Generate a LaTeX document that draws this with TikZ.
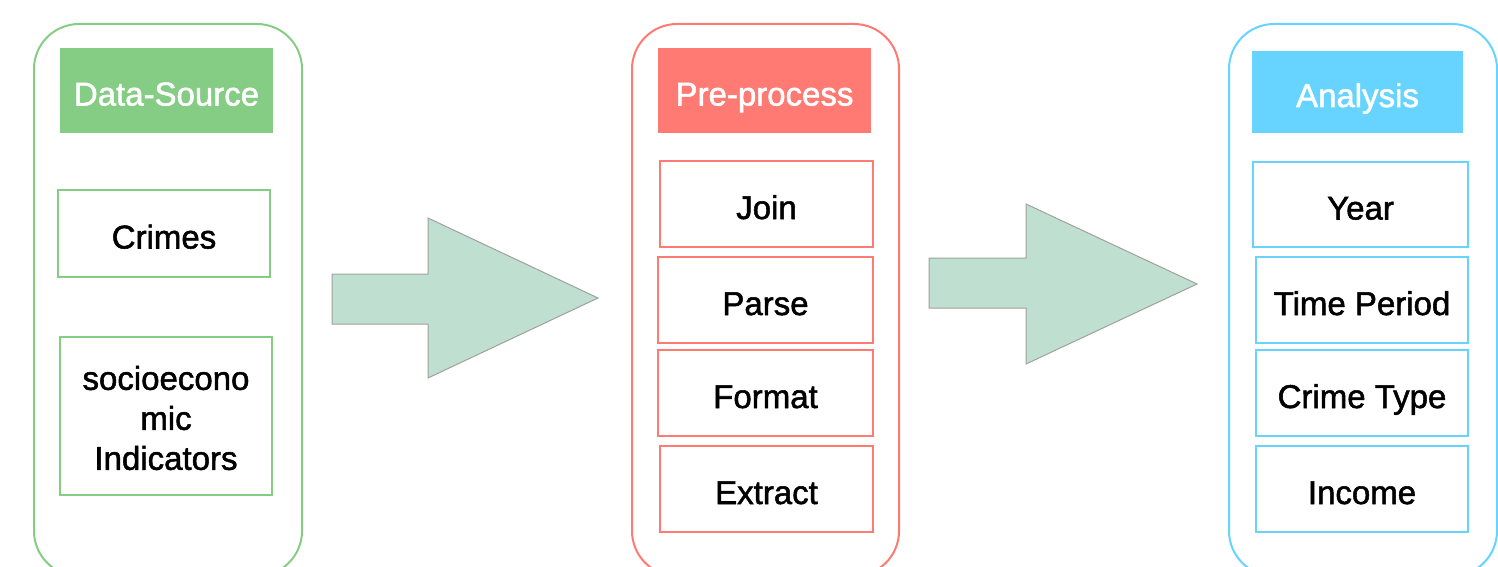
\documentclass[tikz,border=0pt]{standalone}
\usepackage{fontspec}
\setmainfont{Liberation Sans}[FakeBold=1.6]
\definecolor{srcgreen}{RGB}{133,204,133}
\definecolor{prered}{RGB}{255,122,115}
\definecolor{anablue}{RGB}{102,212,255}
\definecolor{flowfill}{RGB}{191,224,208}
\definecolor{flowedge}{RGB}{160,160,160}
\tikzset{
  column/.style={draw=#1, line width=2pt, rounded corners=45pt, rectangle,
    minimum width=268pt, minimum height=552pt, inner sep=0pt},
  header/.style={fill=#1, draw=none, rectangle, inner sep=0pt, text=white,
    text height=30pt, text depth=0pt},
  item/.style={draw=#1, line width=2pt, rectangle, inner sep=0pt, text=black,
    text height=30pt, text depth=0pt},
  multiitem/.style={draw=#1, line width=2pt, rectangle, inner sep=0pt, text=black,
    align=center},
  blockarrow/.style={fill=flowfill, draw=flowedge, line width=1pt}
}
\begin{document}
\begin{tikzpicture}[x=1pt, y=-1pt, font=\fontsize{33}{40}\selectfont]
\useasboundingbox (0,0) rectangle (1498,567);
\begin{scope}
\clip (0,0) rectangle (1498,567);

% Data source column
\node[column=srcgreen] (src) at (168,300) {};
\node[header=srcgreen, minimum width=213pt, minimum height=85pt] (srchead) at (166.5,90.5) {Data-Source};
\node[item=srcgreen, minimum width=212pt, minimum height=87pt] (crimes) at (164,233.5) {Crimes};
\node[multiitem=srcgreen, minimum width=212pt, minimum height=158pt, text height=0pt] (socio) at (166,416) {};
\node[align=center, inner sep=0pt] (sociotext) at (166,418) {socioecono\\mic\\Indicators};

% Pre-processing column
\node[column=prered, minimum width=267pt] (pre) at (765.5,300) {};
\node[header=prered, minimum width=213pt, minimum height=85pt] (prehead) at (764.5,90.5) {Pre-process};
\node[item=prered, minimum width=213pt, minimum height=86pt] (join) at (766.5,204) {Join};
\node[item=prered, minimum width=215pt, minimum height=86pt] (parse) at (765.5,300) {Parse};
\node[item=prered, minimum width=215pt, minimum height=86pt] (format) at (765.5,393) {Format};
\node[item=prered, minimum width=213pt, minimum height=86pt] (extract) at (766.5,489) {Extract};

% Analysis column
\node[column=anablue] (ana) at (1363,300) {};
\node[header=anablue, minimum width=211pt, minimum height=82pt] (anahead) at (1357.5,92) {Analysis};
\node[item=anablue, minimum width=215pt, minimum height=85pt] (year) at (1360.5,204.5) {Year};
\node[item=anablue, minimum width=212pt, minimum height=86pt] (period) at (1362,300) {Time Period};
\node[item=anablue, minimum width=212pt, minimum height=86pt] (ctype) at (1362,393) {Crime Type};
\node[item=anablue, minimum width=212pt, minimum height=86pt] (income) at (1362,489) {Income};
\end{scope}

% Block arrows between the stages
\draw[blockarrow] (332,274) -- (428,274) -- (428,218) -- (598,298)
  -- (428,378) -- (428,324) -- (332,324) -- cycle;
\draw[blockarrow] (929,258) -- (1026,258) -- (1026,204) -- (1197,284)
  -- (1026,364) -- (1026,308) -- (929,308) -- cycle;
\end{tikzpicture}
\end{document}
